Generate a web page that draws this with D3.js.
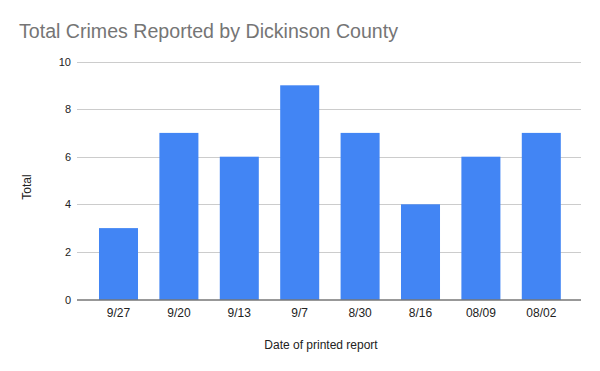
<!DOCTYPE html>
<html>
<head>
<meta charset="utf-8">
<script src="https://cdn.jsdelivr.net/npm/d3@7"></script>
<style>
  body { margin: 0; background: #fff; }
  text { font-family: "Liberation Sans", Arial, sans-serif; }
</style>
</head>
<body>
<div id="chart"></div>
<script>
var svgWidth = 600;
var svgHeight = 371;

// chart data
var dates = ["9/27", "9/20", "9/13", "9/7", "8/30", "8/16", "08/09", "08/02"];
var totals = [3, 7, 6, 9, 7, 4, 6, 7];
var yTicks = [0, 2, 4, 6, 8, 10];

var svg = d3.select("#chart")
  .append("svg")
  .attr("width", svgWidth)
  .attr("height", svgHeight);

svg.append("rect")
  .attr("width", svgWidth)
  .attr("height", svgHeight)
  .attr("fill", "#fff");

// scales
var xScale = d3.scaleBand()
  .domain(dates)
  .range([88.3, 571.5])
  .paddingInner(0.354)
  .paddingOuter(0.177);

var yScale = d3.scaleLinear()
  .domain([0, 10])
  .range([299.5, 61.5]);

var gridLeft = 77, gridRight = 581;

// title
svg.append("text")
  .attr("x", 19)
  .attr("y", 38)
  .attr("font-size", "19.6px")
  .attr("fill", "#757575")
  .text("Total Crimes Reported by Dickinson County");

// gridlines
svg.append("g")
  .selectAll("line")
  .data(yTicks.filter(d => d > 0))
  .enter()
  .append("line")
  .attr("x1", gridLeft)
  .attr("x2", gridRight)
  .attr("y1", d => Math.round(yScale(d)) + 0.5)
  .attr("y2", d => Math.round(yScale(d)) + 0.5)
  .attr("stroke", "#cccccc")
  .attr("stroke-width", 1);

// y tick labels
svg.append("g")
  .selectAll("text")
  .data(yTicks)
  .enter()
  .append("text")
  .attr("x", 71)
  .attr("y", d => yScale(d) + 4)
  .attr("text-anchor", "end")
  .attr("font-size", "11px")
  .attr("fill", "#222")
  .text(d => d);

// bars
svg.append("g")
  .selectAll("rect")
  .data(totals)
  .enter()
  .append("rect")
  .attr("x", (d, i) => xScale(dates[i]))
  .attr("y", d => yScale(d))
  .attr("width", xScale.bandwidth())
  .attr("height", d => yScale(0) - yScale(d))
  .attr("fill", "#4285f4");

// baseline
svg.append("line")
  .attr("x1", gridLeft)
  .attr("x2", gridRight)
  .attr("y1", 300)
  .attr("y2", 300)
  .attr("stroke", "#333")
  .attr("stroke-width", 1);

// x tick labels
svg.append("g")
  .selectAll("text")
  .data(dates)
  .enter()
  .append("text")
  .attr("x", d => xScale(d) + xScale.bandwidth() / 2)
  .attr("y", 317)
  .attr("text-anchor", "middle")
  .attr("font-size", "12px")
  .attr("fill", "#222")
  .text(d => d);

// axis titles
svg.append("text")
  .attr("x", 321)
  .attr("y", 349)
  .attr("text-anchor", "middle")
  .attr("font-size", "12px")
  .attr("fill", "#222")
  .text("Date of printed report");

svg.append("text")
  .attr("transform", "translate(31, 187) rotate(-90)")
  .attr("text-anchor", "middle")
  .attr("font-size", "12px")
  .attr("fill", "#222")
  .text("Total");
</script>
</body>
</html>
